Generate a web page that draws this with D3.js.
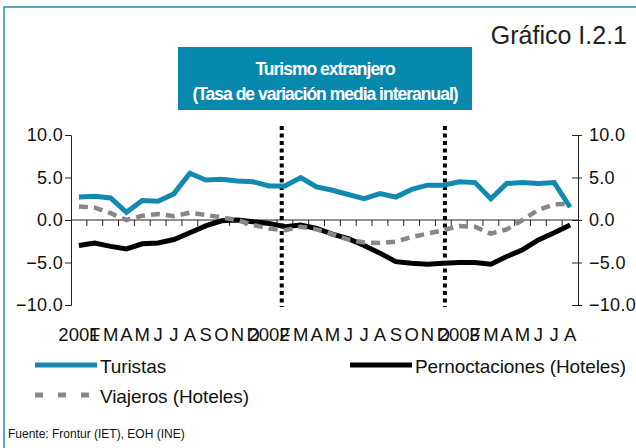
<!doctype html>
<html>
<head>
<style>
body { margin: 0; background: #fff; }
svg text { font-family: "Liberation Sans", Arial, Helvetica, sans-serif; }
.line { fill: none; stroke-linejoin: miter; }
</style>
</head>
<body>
<div id="root"></div>
<script src="https://d3js.org/d3.v7.min.js"></script>
<script>

var months = ['2001','F','M','A','M','J','J','A','S','O','N','D',
	'2002','F','M','A','M','J','J','A','S','O','N','D',
	'2003','F','M','A','M','J','J','A'];

var turistas = [2.7, 2.8, 2.6, 0.9, 2.3, 2.2, 3.1, 5.5, 4.7, 4.8, 4.6, 4.5,
	4.0, 4.0, 5.0, 3.9, 3.5, 3.0, 2.5, 3.1, 2.7, 3.6, 4.1, 4.1,
	4.5, 4.4, 2.5, 4.3, 4.4, 4.3, 4.4, 1.5];

var pernoctaciones = [-3.0, -2.7, -3.1, -3.4, -2.8, -2.7, -2.3, -1.5, -0.7, -0.1, 0.0, -0.2,
	-0.4, -0.8, -0.6, -1.0, -1.65, -2.2, -3.0, -3.9, -4.9, -5.1, -5.2, -5.1,
	-5.0, -5.0, -5.2, -4.3, -3.5, -2.35, -1.5, -0.6];

var viajeros = [1.6, 1.45, 0.8, 0.0, 0.5, 0.7, 0.45, 0.86, 0.6, 0.3, 0.0, -0.6,
	-1.0, -1.2, -0.8, -1.1, -1.65, -2.3, -2.65, -2.7, -2.55, -2.0, -1.6, -1.2,
	-0.7, -0.8, -1.6, -1.1, 0.0, 1.2, 1.85, 1.9];

var yTicks = [10, 5, 0, -5, -10];
// year separators, in months from the start
var breaks = [13.3, 23.6];

var W = 636, H = 448;
var plotLeft = 71, plotRight = 578, plotTop = 135, plotBottom = 305;

var svg = d3.select('#root').append('svg')
	.attr('width', W)
	.attr('height', H);

// frame
svg.append('path')
	.attr('d', 'M4,' + H + 'V7H' + W)
	.attr('fill', 'none')
	.attr('stroke', '#2b86b8')
	.attr('stroke-width', 1.5);

svg.append('text')
	.attr('x', 627).attr('y', 44)
	.attr('text-anchor', 'end')
	.attr('font-size', 25)
	.attr('fill', '#222')
	.text('Gráfico I.2.1');

// title box
svg.append('rect')
	.attr('x', 178).attr('y', 47)
	.attr('width', 294).attr('height', 63)
	.attr('fill', '#0788ad');

var title = svg.append('g')
	.attr('fill', '#fff')
	.attr('font-weight', 'bold')
	.attr('font-size', 17.5)
	.attr('text-anchor', 'middle')
	.attr('letter-spacing', -1);
title.append('text').attr('x', 325).attr('y', 75).text('Turismo extranjero');
title.append('text').attr('x', 325).attr('y', 100).text('(Tasa de variación media interanual)');

var x = d3.scaleBand().domain(d3.range(months.length)).range([plotLeft, plotRight]);
var xi = d3.scaleLinear().domain([0, months.length]).range([plotLeft, plotRight]);
var y = d3.scaleLinear().domain([-10, 10]).range([plotBottom, plotTop]);

var g = svg.append('g');

// axes
var yl = g.append('g')
	.attr('transform', 'translate(' + plotLeft + ',0)')
	.call(d3.axisLeft(y).tickValues(yTicks).tickSize(6).tickFormat(d3.format('.1f')));
var yr = g.append('g')
	.attr('transform', 'translate(' + plotRight + ',0)')
	.call(d3.axisRight(y).tickValues(yTicks).tickSize(0).tickFormat(d3.format('.1f')));
yr.selectAll('.tick line').attr('x1', -6).attr('x2', 4);

[yl, yr].forEach(function(a) {
	a.select('.domain').attr('stroke', '#222');
	a.selectAll('.tick line').attr('stroke', '#222');
	a.selectAll('text')
		.attr('font-size', 18)
		.attr('font-family', null)
		.attr('letter-spacing', 0.3)
		.attr('fill', '#111');
});
yl.selectAll('text').attr('x', -8);
yr.selectAll('text').attr('x', 11);

// zero line with month ticks
g.append('line')
	.attr('x1', plotLeft).attr('x2', plotRight)
	.attr('y1', y(0)).attr('y2', y(0))
	.attr('stroke', '#222');
g.selectAll('.mtick')
	.data(d3.range(1, months.length))
	.enter().append('line')
	.attr('x1', function(d){ return xi(d); })
	.attr('x2', function(d){ return xi(d); })
	.attr('y1', y(0)).attr('y2', y(0) + 6)
	.attr('stroke', '#222');

g.selectAll('.mlabel')
	.data(months)
	.enter().append('text')
	.attr('x', function(d, i){ return x(i) + x.bandwidth() / 2; })
	.attr('y', 341)
	.attr('text-anchor', 'middle')
	.attr('font-size', 18.5)
	.attr('fill', '#111')
	.text(function(d){ return d; });

// year separators
g.selectAll('.sep')
	.data(breaks)
	.enter().append('line')
	.attr('x1', function(d){ return xi(d); })
	.attr('x2', function(d){ return xi(d); })
	.attr('y1', 126).attr('y2', 307)
	.attr('stroke', '#000')
	.attr('stroke-width', 4)
	.attr('stroke-dasharray', '4,3.5');

var line = d3.line()
	.x(function(d, i){ return x(i) + x.bandwidth() / 2; })
	.y(function(d){ return y(d); });

g.append('path').datum(pernoctaciones)
	.attr('class', 'line')
	.attr('d', line)
	.attr('stroke', '#000')
	.attr('stroke-width', 5);

g.append('path').datum(viajeros)
	.attr('class', 'line')
	.attr('d', line)
	.attr('stroke', '#878787')
	.attr('stroke-width', 4.5)
	.attr('stroke-dasharray', '9,6');

g.append('path').datum(turistas)
	.attr('class', 'line')
	.attr('d', line)
	.attr('stroke', '#1189b0')
	.attr('stroke-width', 5);

// legend
var legend = [
	{ name: 'Turistas', color: '#1189b0', dash: null, x: 35, y: 365 },
	{ name: 'Pernoctaciones (Hoteles)', color: '#000', dash: null, x: 350, y: 365 },
	{ name: 'Viajeros (Hoteles)', color: '#878787', dash: '8,15', x: 35, y: 395 }
];
var lg = svg.append('g').selectAll('g')
	.data(legend)
	.enter().append('g');
lg.append('line')
	.attr('x1', function(d){ return d.x; })
	.attr('x2', function(d){ return d.x + 62; })
	.attr('y1', function(d){ return d.y; })
	.attr('y2', function(d){ return d.y; })
	.attr('stroke', function(d){ return d.color; })
	.attr('stroke-width', 5)
	.attr('stroke-dasharray', function(d){ return d.dash; });
lg.append('text')
	.attr('x', function(d){ return d.x + 65; })
	.attr('y', function(d){ return d.y + 8; })
	.attr('font-size', 19)
	.attr('letter-spacing', -0.1)
	.attr('fill', '#111')
	.text(function(d){ return d.name; });

svg.append('text')
	.attr('x', 8).attr('y', 438)
	.attr('font-size', 12)
	.attr('fill', '#111')
	.text('Fuente: Frontur (IET),  EOH (INE)');

</script>
</body>
</html>
